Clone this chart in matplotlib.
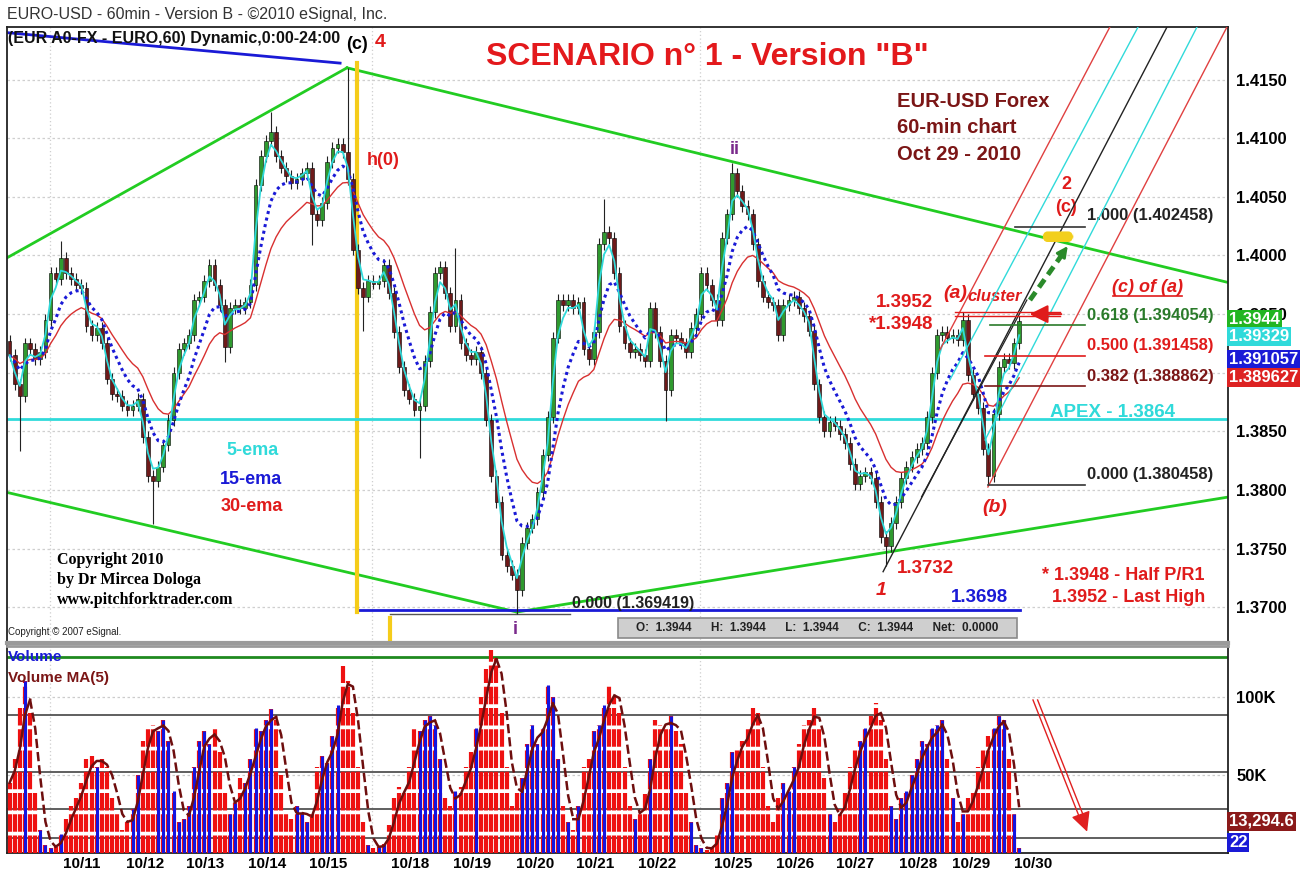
import numpy as np
import pandas as pd
import matplotlib
matplotlib.use('Agg')
import matplotlib.pyplot as plt
from matplotlib.patches import Rectangle, FancyBboxPatch

plt.rcParams['font.family'] = ['Liberation Sans', 'DejaVu Sans']

# ---- data (2-hour bars, EUR/USD, Oct 8 - Oct 29 2010) ----
first_open = 1.3927
closes = [
    1.3915, 1.3890, 1.3880, 1.3925, 1.3920, 1.3912, 1.3918, 1.3945, 1.3985, 1.3980, 1.3998, 1.3985,
    1.3980, 1.3975, 1.3972, 1.3940, 1.3932, 1.3938, 1.3925, 1.3895, 1.3882, 1.3880, 1.3872, 1.3868,
    1.3872, 1.3878, 1.3845, 1.3812, 1.3808, 1.3820, 1.3838, 1.3860, 1.3900, 1.3920, 1.3925, 1.3932,
    1.3962, 1.3965, 1.3978, 1.3992, 1.3975, 1.3958, 1.3922, 1.3955, 1.3958, 1.3955, 1.3960, 1.3975,
    1.4060, 1.4085, 1.4098, 1.4105, 1.4085, 1.4075, 1.4068, 1.4062, 1.4065, 1.4070, 1.4075, 1.4035,
    1.4030, 1.4045, 1.4080, 1.4092, 1.4095, 1.4088, 1.4065, 1.4005, 1.3972, 1.3965, 1.3978, 1.3976,
    1.3978, 1.3992, 1.3968, 1.3935, 1.3905, 1.3885, 1.3878, 1.3868, 1.3872, 1.3910, 1.3952, 1.3985,
    1.3990, 1.3968, 1.3940, 1.3962, 1.3925, 1.3915, 1.3912, 1.3918, 1.3900, 1.3860, 1.3812, 1.3790,
    1.3745, 1.3735, 1.3728, 1.3715, 1.3755, 1.3768, 1.3775, 1.3798, 1.3830, 1.3862, 1.3930, 1.3962,
    1.3958, 1.3962, 1.3955, 1.3960, 1.3920, 1.3912, 1.3935, 1.4010, 1.4020, 1.4015, 1.3985, 1.3940,
    1.3925, 1.3918, 1.3920, 1.3915, 1.3910, 1.3955, 1.3935, 1.3910, 1.3885, 1.3932, 1.3930, 1.3925,
    1.3918, 1.3938, 1.3950, 1.3985, 1.3975, 1.3962, 1.3945, 1.4015, 1.4035, 1.4070, 1.4055, 1.4042,
    1.4035, 1.4010, 1.3978, 1.3965, 1.3960, 1.3958, 1.3932, 1.3958, 1.3962, 1.3965, 1.3955, 1.3948,
    1.3936, 1.3890, 1.3862, 1.3850, 1.3858, 1.3855, 1.3848, 1.3840, 1.3822, 1.3805, 1.3812, 1.3815,
    1.3810, 1.3790, 1.3760, 1.3752, 1.3772, 1.3790, 1.3810, 1.3820, 1.3828, 1.3835, 1.3840, 1.3862,
    1.3900, 1.3932, 1.3935, 1.3930, 1.3932, 1.3928, 1.3945, 1.3898, 1.3882, 1.3870, 1.3835, 1.3812,
    1.3865, 1.3905, 1.3912, 1.3908, 1.3925, 1.3944,
]
# bars whose wick reaches a marked extreme
high_spikes = {10: 1.4012, 51: 1.4122, 66: 1.4160, 87: 1.4006, 116: 1.4048,
               141: 1.4079, 186: 1.3952, 197: 1.3948}
low_spikes = {2: 1.3833, 28: 1.3771, 42: 1.3909, 59: 1.4009, 69: 1.3936, 80: 1.3827,
              99: 1.3694, 128: 1.3859, 171: 1.3735, 191: 1.3805}

volume_k = [
    45, 60, 95, 110, 90, 40, 15, 5, 3, 4, 12, 22,
    30, 35, 45, 60, 62, 55, 60, 55, 35, 25, 15, 20,
    28, 50, 72, 80, 82, 78, 85, 72, 40, 20, 22, 30,
    55, 72, 78, 70, 80, 65, 40, 25, 32, 48, 45, 60,
    80, 78, 85, 92, 85, 50, 25, 22, 30, 25, 20, 25,
    55, 62, 58, 75, 95, 120, 110, 90, 55, 20, 5, 3,
    4, 6, 18, 35, 42, 40, 55, 80, 78, 85, 88, 82,
    60, 35, 30, 40, 42, 55, 65, 80, 100, 118, 130, 125,
    90, 55, 30, 40, 48, 70, 82, 70, 80, 108, 100, 60,
    30, 20, 15, 30, 55, 60, 78, 82, 95, 108, 100, 90,
    55, 30, 22, 25, 38, 60, 85, 82, 80, 88, 78, 70,
    40, 20, 5, 3, 2, 4, 12, 35, 45, 65, 68, 72,
    80, 95, 90, 55, 30, 20, 35, 45, 40, 55, 70, 82,
    85, 95, 80, 48, 25, 20, 28, 40, 55, 68, 72, 80,
    88, 96, 85, 60, 30, 22, 35, 40, 50, 60, 72, 70,
    80, 82, 85, 60, 35, 20, 25, 35, 40, 55, 68, 75,
    80, 88, 85, 60, 25, 3,
]

date_pos = [29.3, 53.9, 77.3, 101.5, 125.3, 157.3, 181.5, 206.0, 229.5, 253.7,
            283.3, 307.5, 330.9, 355.5, 376.2, 400.4]
date_labels = ['10/11', '10/12', '10/13', '10/14', '10/15', '10/18', '10/19', '10/20',
               '10/21', '10/22', '10/25', '10/26', '10/27', '10/28', '10/29', '10/30']
price_ticks = [1.4150, 1.4100, 1.4050, 1.4000, 1.3950, 1.3850, 1.3800, 1.3750, 1.3700]
vgrid = [16.8, 142.4, 270.4]

RED = '#e01b1b'
MAROON = '#7b1616'
GREEN = '#22cc22'
CYAN = '#30dada'
BLUE = '#1a1ad6'
PURPLE = '#7a2a8c'

n = len(closes)
xs = np.arange(n) * 2 + 1
opens = [first_open] + closes[:-1]
highs = [high_spikes.get(i, max(o, c) + 0.0005) for i, (o, c) in enumerate(zip(opens, closes))]
lows = [low_spikes.get(i, min(o, c) - 0.0005) for i, (o, c) in enumerate(zip(opens, closes))]

fig = plt.figure(figsize=(13.08, 8.92), dpi=100)
ax = fig.add_axes([7/1308, 1-643/892, 1221/1308, 616/892])
axv = fig.add_axes([7/1308, 1-853/892, 1221/1308, 207/892])

ax.set_xlim(0, 476.5)
ax.set_ylim(1.36696, 1.41948)
axv.set_xlim(0, 476.5)
axv.set_ylim(0, 132.7)

# grids
for p in price_ticks + [1.3900]:
    ax.axhline(p, color='#cfcfcf', lw=0.9, ls=(0, (2, 2)), zorder=0)
for gx in vgrid:
    ax.axvline(gx, color='#cfcfcf', lw=0.9, ls=(0, (1, 2)), zorder=0)
    axv.axvline(gx, color='#cfcfcf', lw=0.9, ls=(0, (1, 2)), zorder=0)

# candles
bottoms = [min(o, c) for o, c in zip(opens, closes)]
heights = [max(abs(c - o), 0.00015) for o, c in zip(opens, closes)]
cols = ['#2f9a2f' if c >= o else '#6e1a1a' for o, c in zip(opens, closes)]
ax.vlines(xs, lows, highs, color='#222222', lw=0.8, zorder=3)
ax.bar(xs, heights, bottom=bottoms, width=1.5, color=cols, edgecolor='black', linewidth=0.4, zorder=4)

# moving averages
cs = pd.Series(closes)
ema5 = cs.ewm(span=2.5, adjust=False).mean()
ema15 = cs.ewm(span=7.5, adjust=False).mean()
ema30 = cs.ewm(span=15, adjust=False).mean()
ax.plot(xs, ema30, color='#d83030', lw=1.0, zorder=5)
ax.plot(xs, ema15, color=BLUE, lw=2.2, ls=(0, (1, 1.2)), zorder=5)
ax.plot(xs, ema5, color=CYAN, lw=1.3, zorder=6)

# channel / trend lines
ax.plot([0, 132.7], [1.3998, 1.4160], color=GREEN, lw=2, zorder=2)
ax.plot([132.7, 476.5], [1.4160, 1.3977], color=GREEN, lw=2, zorder=2)
ax.plot([0, 199.0], [1.3798, 1.3696], color=GREEN, lw=2, zorder=2)
ax.plot([199.0, 476.5], [1.3696, 1.3794], color=GREEN, lw=2, zorder=2)
ax.plot([0, 130.0], [1.4190, 1.4164], color=BLUE, lw=2, zorder=2)
ax.plot([136.6, 395.3], [1.3698, 1.3698], color=BLUE, lw=2, zorder=2)
ax.plot([136.6, 136.6], [1.3696, 1.4164], color='#f5cc1a', lw=3, zorder=2)
ax.plot([149.5, 149.5], [1.36723, 1.36911], color='#f5cc1a', lw=3, zorder=2)
ax.plot([149.5, 219.7], [1.3694, 1.3694], color='#555555', lw=1, zorder=2)
ax.axhline(1.3861, color=CYAN, lw=2, zorder=2)

# pitchfork
fork = [((364.1, 1.39197), (430.4, 1.41948), '#e04040'),
        ((368.0, 1.38941), (441.4, 1.41948), CYAN),
        ((341.9, 1.37304), (452.7, 1.41948), '#222222'),
        ((381.7, 1.38427), (464.4, 1.41948), CYAN),
        ((382.8, 1.38026), (476.1, 1.41948), '#e04040')]
for a, b, c in fork:
    ax.plot([a[0], b[0]], [a[1], b[1]], color=c, lw=1, zorder=7)
ax.plot([356.9, 398.0], [1.37942, 1.3962], color='#222222', lw=0.9, zorder=7)

# fib levels
ax.plot([393.4, 420.7], [1.402458, 1.402458], color='#333333', lw=1.2, zorder=7)
ax.plot([383.6, 420.7], [1.394054, 1.394054], color='#2a7a2a', lw=1.2, zorder=7)
ax.plot([381.7, 420.7], [1.391458, 1.391458], color=RED, lw=1.2, zorder=7)
ax.plot([381.7, 420.7], [1.388862, 1.388862], color=MAROON, lw=1.2, zorder=7)
ax.plot([382.8, 420.7], [1.380458, 1.380458], color='#333333', lw=1.2, zorder=7)
ax.plot([370.0, 411.0], [1.3952, 1.3952], color=RED, lw=1, zorder=7)
ax.plot([370.0, 411.0], [1.3948, 1.3948], color=RED, lw=1, zorder=7)
ax.annotate('', xy=(398.0, 1.3950), xytext=(412.5, 1.3950),
            arrowprops=dict(arrowstyle='-|>', color=RED, lw=1.5, mutation_scale=28), zorder=8)

# green dashed projection arrow + target
ax.plot([399.2, 412.5], [1.3962, 1.4003], color='#2a8a2a', lw=3.5, ls=(0, (2, 1.2)), zorder=8)
ax.annotate('', xy=(414.6, 1.4010), xytext=(412.0, 1.4002),
            arrowprops=dict(arrowstyle='-|>', color='#2a8a2a', lw=2, mutation_scale=16), zorder=8)
ax.add_patch(FancyBboxPatch((404.0, 1.40115), 12.2, 0.0009, boxstyle='round,pad=0.0,rounding_size=2',
                            fc='#f2cf1c', ec='none', zorder=7, mutation_aspect=0.0004))

# texts on price panel
bold = dict(fontweight='bold')
ax.text(136.6, 1.41795, '(c)', ha='center', va='center', fontsize=13, color='black', **bold)
ax.text(145.6, 1.4182, '4', ha='center', va='center', fontsize=14, color=RED, **bold)
ax.text(146.7, 1.40814, 'h(0)', ha='center', va='center', fontsize=13, color=RED, **bold)
ax.text(284.1, 1.4090, 'ii', ha='center', va='center', fontsize=13, color=PURPLE, **bold)
ax.text(198.2, 1.3681, 'i', ha='center', va='center', fontsize=13, color=PURPLE, **bold)
ax.text(220.5, 1.37031, '0.000 (1.369419)', ha='left', va='center', fontsize=11.5, color='#222222', **bold)
ax.text(96.0, 1.38334, '5-ema', ha='center', va='center', fontsize=13, color=CYAN, **bold)
ax.text(95.2, 1.38086, '15-ema', ha='center', va='center', fontsize=13, color=BLUE, **bold)
ax.text(95.6, 1.37856, '30-ema', ha='center', va='center', fontsize=13, color=RED, **bold)
for yy, t in zip([1.37404, 1.37234, 1.37063],
                 ['Copyright 2010', 'by Dr Mircea Dologa', 'www.pitchforktrader.com']):
    ax.text(19.5, yy, t, ha='left', va='center', fontsize=11.5, family='Liberation Serif', **bold)
ax.text(0.4, 1.36791, 'Copyright \u00a9 2007 eSignal.', ha='left', va='center', fontsize=7, color='#222222')
for yy, t in zip([1.41317, 1.41087, 1.40865], ['EUR-USD Forex', '60-min chart', 'Oct 29 - 2010']):
    ax.text(347.3, yy, t, ha='left', va='center', fontsize=14.5, color=MAROON, **bold)
ax.text(361.4, 1.39595, '1.3952', ha='right', va='center', fontsize=13.5, color=RED, **bold)
ax.text(361.4, 1.39408, '*1.3948', ha='right', va='center', fontsize=13.5, color=RED, **bold)
ax.text(370.0, 1.39672, '(a)', ha='center', va='center', fontsize=14, color=RED, style='italic', **bold)
ax.text(375.0, 1.39646, 'cluster', ha='left', va='center', fontsize=12, color=RED, style='italic', **bold)
ax.text(413.3, 1.40601, '2', ha='center', va='center', fontsize=13, color=RED, **bold)
ax.text(413.3, 1.40413, '(c)', ha='center', va='center', fontsize=13, color=RED, **bold)
ax.text(421.5, 1.40345, '1.000 (1.402458)', ha='left', va='center', fontsize=12, color='#222222', **bold)
ax.text(444.9, 1.39731, '(c) of (a)', ha='center', va='center', fontsize=13, color=RED,
        style='italic', **bold)
ax.plot([431.5, 458.5], [1.39655, 1.39655], color=RED, lw=1.2)
ax.text(421.5, 1.39484, '0.618 (1.394054)', ha='left', va='center', fontsize=12, color='#2a7a2a', **bold)
ax.text(421.5, 1.39229, '0.500 (1.391458)', ha='left', va='center', fontsize=12, color=RED, **bold)
ax.text(421.5, 1.38964, '0.382 (1.388862)', ha='left', va='center', fontsize=12, color=MAROON, **bold)
ax.text(407.0, 1.38657, 'APEX - 1.3864', ha='left', va='center', fontsize=13.5, color=CYAN, **bold)
ax.text(421.5, 1.38129, '0.000 (1.380458)', ha='left', va='center', fontsize=12, color='#222222', **bold)
ax.text(385.6, 1.37848, '(b)', ha='center', va='center', fontsize=14, color=RED, style='italic', **bold)
ax.text(347.3, 1.37327, '1.3732', ha='left', va='center', fontsize=13.5, color=RED, **bold)
ax.text(341.1, 1.37140, '1', ha='center', va='center', fontsize=14, color=RED, style='italic', **bold)
ax.text(390.6, 1.37088, '1.3698', ha='right', va='center', fontsize=13.5, color=BLUE, **bold)
ax.text(467.5, 1.37268, '* 1.3948 - Half P/R1', ha='right', va='center', fontsize=13, color=RED, **bold)
ax.text(467.5, 1.37080, '1.3952 - Last High', ha='right', va='center', fontsize=13, color=RED, **bold)

# OHLC status box
ax.add_patch(Rectangle((238.4, 1.36740), 155.7, 0.00171, fc='#cfcfcf', ec='#8a8a8a', lw=1.2, zorder=8))
ax.text(316.1, 1.36826, 'O:  1.3944      H:  1.3944      L:  1.3944      C:  1.3944      Net:  0.0000',
        ha='center', va='center', fontsize=8.5, color='#222222', zorder=9, **bold)

# price axis
ax.yaxis.tick_right()
ax.set_yticks(price_ticks)
ax.set_yticklabels(['%.4f' % p for p in price_ticks], fontsize=12, fontweight='bold')
ax.tick_params(axis='y', length=0, pad=6)
ax.set_xticks([])
for s in ['left', 'top', 'right']:
    ax.spines[s].set_color('#222222')
    ax.spines[s].set_linewidth(1.3)
ax.spines['bottom'].set_color('#9a9a9a')
ax.spines['bottom'].set_linewidth(3)

ytr = ax.get_yaxis_transform()
for val, txt, fc in [(1.39455, '1.3944', '#22b522'), (1.39310, '1.39329', CYAN),
                     (1.39110, '1.391057', BLUE), (1.38960, '1.389627', '#dd2222')]:
    ax.text(1.0008, val, txt, transform=ytr, ha='left', va='center', fontsize=12, color='white',
            clip_on=False, zorder=10,
            bbox=dict(boxstyle='square,pad=0.12', fc=fc, ec='none'), **bold)

# ---- volume panel ----
up = [c > o for o, c in zip(opens, closes)]
axv.vlines(xs, 0, volume_k, colors='#ee1111', lw=3.0, linestyles=(0, (4.2, 0.9)), zorder=3)
axv.vlines([x for x, u in zip(xs, up) if u], 0, [v for v, u in zip(volume_k, up) if u],
           colors='#1414e0', lw=2.2, zorder=4)
ma = pd.Series(volume_k).rolling(3, min_periods=1).mean().values
seg_style = ['-' if ma[i] >= ma[i-1] else '--' for i in range(1, n)]
j = 0
while j < n - 1:
    k = j
    while k + 1 < n - 1 and seg_style[k + 1] == seg_style[j]:
        k += 1
    axv.plot(xs[j:k + 2], ma[j:k + 2], ls=seg_style[j], color='#6e0e0e', lw=1.8, zorder=5)
    j = k + 1

for lv in [88.5, 51.9, 28.2, 9.6]:
    axv.axhline(lv, color='#444444', lw=1.2, zorder=2)
axv.axhline(125.6, color='#1f8a1f', lw=2, zorder=2)
for lv in [100, 50]:
    axv.axhline(lv, color='#cccccc', lw=0.9, ls=(0, (2, 2)), zorder=1)

axv.text(0.5, 125.6, 'Volume', ha='left', va='center', fontsize=11, color=BLUE, **bold)
axv.text(0.5, 112.0, 'Volume MA(5)', ha='left', va='center', fontsize=11, color=MAROON, **bold)

# red down arrow (double shaft)
axv.plot([400.4, 418.5], [98.1, 23.0], color='#e02020', lw=1)
axv.plot([402.2, 420.3], [98.1, 23.0], color='#e02020', lw=1)
axv.annotate('', xy=(421.9, 12.0), xytext=(418.8, 26.0),
             arrowprops=dict(arrowstyle='-|>', color='#e02020', lw=1, mutation_scale=30))

axv.yaxis.tick_right()
axv.set_yticks([100, 50])
axv.set_yticklabels(['100K', '50K'], fontsize=12, fontweight='bold')
axv.tick_params(axis='y', length=0, pad=6)
axv.set_xticks(date_pos)
axv.set_xticklabels(date_labels, fontsize=11, fontweight='bold')
axv.tick_params(axis='x', length=0, pad=3)
for s in ['left', 'right', 'bottom']:
    axv.spines[s].set_color('#222222')
    axv.spines[s].set_linewidth(1.3)
axv.spines['top'].set_color('#9a9a9a')
axv.spines['top'].set_linewidth(2)

vtr = axv.get_yaxis_transform()
axv.text(1.0008, 20.5, '13,294.6', transform=vtr, ha='left', va='center', fontsize=12, color='white',
         clip_on=False, bbox=dict(boxstyle='square,pad=0.12', fc='#8b1a1a', ec='none'), **bold)
axv.text(1.0008, 7.0, '22', transform=vtr, ha='left', va='center', fontsize=12, color='white',
         clip_on=False, bbox=dict(boxstyle='square,pad=0.12', fc=BLUE, ec='none'), **bold)

# header texts
fig.text(7/1308, 1-14/892, 'EURO-USD - 60min - Version B - \u00a92010 eSignal, Inc.', ha='left',
         va='center', fontsize=11.5, color='#333333')
fig.text(8/1308, 1-38/892, '(EUR A0-FX - EURO,60) Dynamic,0:00-24:00', ha='left', va='center',
         fontsize=11.5, color='#111111', **bold)
fig.text(707/1308, 1-57/892, 'SCENARIO n\u00b0 1 - Version "B"', ha='center', va='center',
         fontsize=23, color='#e3191c', **bold)

fig.savefig('out.png', dpi=100, facecolor='white')
